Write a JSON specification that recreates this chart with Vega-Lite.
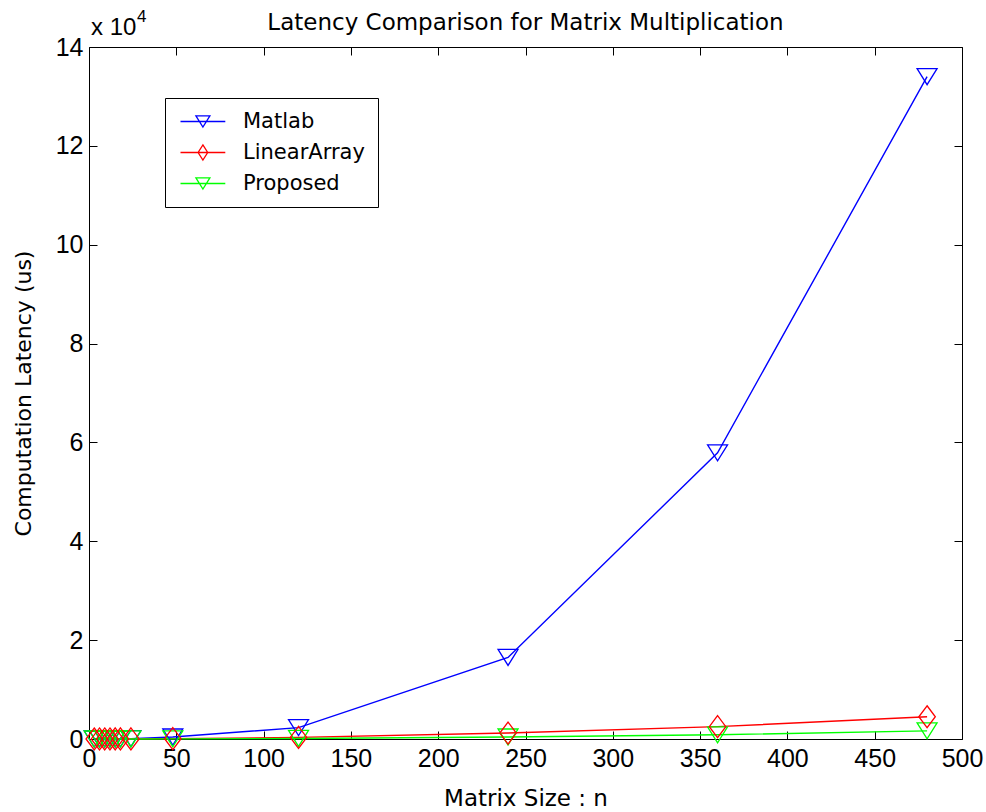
{
  "$schema": "https://vega.github.io/schema/vega-lite/v6.json",
  "width": 873,
  "height": 692,
  "autosize": "none",
  "padding": {"left": 89, "top": 47, "right": 24, "bottom": 73},
  "background": "white",
  "title": {
    "text": "Latency Comparison for Matrix Multiplication",
    "font": "DejaVu Sans",
    "fontSize": 23,
    "fontWeight": "normal",
    "color": "black",
    "anchor": "middle",
    "offset": 15,
    "dy": 42
  },
  "config": {
    "view": {"stroke": null},
    "axis": {
      "grid": false,
      "domainColor": "black",
      "domainWidth": 1,
      "tickColor": "black",
      "tickSize": -8,
      "labelFlush": false,
      "labelOverlap": false,
      "labelColor": "black",
      "labelFont": "Liberation Sans",
      "labelFontSize": 25,
      "titleColor": "black",
      "titleFont": "DejaVu Sans",
      "titleFontSize": 23,
      "titleFontWeight": "normal"
    }
  },
  "data": {
    "values": [
      {"n": 3, "series": "Matlab", "latency": 5},
      {"n": 6, "series": "Matlab", "latency": 8},
      {"n": 9, "series": "Matlab", "latency": 10},
      {"n": 12, "series": "Matlab", "latency": 14},
      {"n": 15, "series": "Matlab", "latency": 18},
      {"n": 18, "series": "Matlab", "latency": 25},
      {"n": 24, "series": "Matlab", "latency": 60},
      {"n": 48, "series": "Matlab", "latency": 400},
      {"n": 120, "series": "Matlab", "latency": 2300},
      {"n": 240, "series": "Matlab", "latency": 16500},
      {"n": 360, "series": "Matlab", "latency": 57900},
      {"n": 480, "series": "Matlab", "latency": 134000},
      {"n": 3, "series": "LinearArray", "latency": 2},
      {"n": 6, "series": "LinearArray", "latency": 4},
      {"n": 9, "series": "LinearArray", "latency": 6},
      {"n": 12, "series": "LinearArray", "latency": 8},
      {"n": 15, "series": "LinearArray", "latency": 10},
      {"n": 18, "series": "LinearArray", "latency": 13},
      {"n": 24, "series": "LinearArray", "latency": 20},
      {"n": 48, "series": "LinearArray", "latency": 70},
      {"n": 120, "series": "LinearArray", "latency": 320},
      {"n": 240, "series": "LinearArray", "latency": 1200},
      {"n": 360, "series": "LinearArray", "latency": 2500},
      {"n": 480, "series": "LinearArray", "latency": 4500},
      {"n": 3, "series": "Proposed", "latency": 1},
      {"n": 6, "series": "Proposed", "latency": 2},
      {"n": 9, "series": "Proposed", "latency": 3},
      {"n": 12, "series": "Proposed", "latency": 4},
      {"n": 15, "series": "Proposed", "latency": 5},
      {"n": 18, "series": "Proposed", "latency": 6},
      {"n": 24, "series": "Proposed", "latency": 8},
      {"n": 48, "series": "Proposed", "latency": 25},
      {"n": 120, "series": "Proposed", "latency": 110},
      {"n": 240, "series": "Proposed", "latency": 400},
      {"n": 360, "series": "Proposed", "latency": 850},
      {"n": 480, "series": "Proposed", "latency": 1650}
    ]
  },
  "layer": [
    {
      "mark": {"type": "point", "filled": false, "opacity": 0},
      "encoding": {
        "x": {"field": "n", "type": "quantitative", "axis": {"orient": "top", "values": [0,50,100,150,200,250,300,350,400,450,500], "labels": false, "title": null, "domain": true}},
        "y": {"field": "latency", "type": "quantitative", "axis": {"orient": "right", "values": [0,20000,40000,60000,80000,100000,120000,140000], "labels": false, "title": null, "domain": true}},
        "color": {"field": "series", "type": "nominal",
                  "scale": {"domain": ["Matlab", "LinearArray", "Proposed"], "range": ["#0000ff", "#ff0000", "#00ff00"]},
                  "legend": {"orient": "none", "legendX": 76, "legendY": 51, "title": null,
                             "strokeColor": "black", "fillColor": "white", "padding": 13,
                             "labelFont": "DejaVu Sans", "labelFontSize": 21, "labelColor": "black",
                             "labelOffset": 44, "rowPadding": 9, "symbolSize": 256,
                             "symbolOpacity": 1, "symbolStrokeWidth": 1.3, "symbolFillColor": "transparent"}},
        "shape": {"field": "series", "type": "nominal",
                  "scale": {"domain": ["Matlab", "LinearArray", "Proposed"],
                            "range": ["M-1,0H4.6M0.925,-0.7H2.675L1.8,0.7Z", "M-1,0H4.6M1.8,-0.95L2.4,0L1.8,0.95L1.2,0Z", "M-1,0H4.6M0.925,-0.7H2.675L1.8,0.7Z"]},
                  "legend": {"orient": "none", "legendX": 76, "legendY": 51, "title": null,
                             "strokeColor": "black", "fillColor": "white", "padding": 13,
                             "labelFont": "DejaVu Sans", "labelFontSize": 21, "labelColor": "black",
                             "labelOffset": 44, "rowPadding": 9, "symbolSize": 256,
                             "symbolOpacity": 1, "symbolStrokeWidth": 1.3, "symbolFillColor": "transparent"}}
      }
    },
    {
      "mark": {"type": "line", "strokeWidth": 1.4},
      "encoding": {
        "x": {"field": "n", "type": "quantitative", "scale": {"domain": [0, 500], "nice": false},
              "axis": {"values": [0,50,100,150,200,250,300,350,400,450,500], "title": "Matrix Size : n", "labelPadding": 15, "titlePadding": 16}},
        "y": {"field": "latency", "type": "quantitative", "scale": {"domain": [0, 140000], "nice": false},
              "axis": {"values": [0,20000,40000,60000,80000,100000,120000,140000], "labelExpr": "datum.value / 10000", "title": "Computation Latency (us)", "titleFontSize": 22, "labelPadding": 14, "titlePadding": 20}},
        "color": {"field": "series", "type": "nominal"}
      }
    },
    {
      "transform": [{"filter": "datum.series !== 'LinearArray'"}],
      "mark": {"type": "point", "shape": "M-1,-0.8H1L0,0.8Z", "filled": false, "size": 400, "strokeWidth": 1.3, "opacity": 1},
      "encoding": {
        "x": {"field": "n", "type": "quantitative", "axis": null},
        "y": {"field": "latency", "type": "quantitative", "axis": null},
        "color": {"field": "series", "type": "nominal"}
      }
    },
    {
      "transform": [{"filter": "datum.series === 'LinearArray'"}],
      "mark": {"type": "point", "shape": "M0,-1L0.75,0L0,1L-0.75,0Z", "filled": false, "size": 484, "strokeWidth": 1.3, "opacity": 1},
      "encoding": {
        "x": {"field": "n", "type": "quantitative", "axis": null},
        "y": {"field": "latency", "type": "quantitative", "axis": null},
        "color": {"field": "series", "type": "nominal"}
      }
    },
    {
      "data": {"values": [{"label": "x 10"}]},
      "mark": {"type": "text", "align": "left", "baseline": "alphabetic", "dx": 2, "dy": -12, "font": "Liberation Sans", "fontSize": 24, "color": "black"},
      "encoding": {
        "x": {"datum": 0, "type": "quantitative", "axis": null},
        "y": {"datum": 140000, "type": "quantitative", "axis": null},
        "text": {"field": "label"}
      }
    },
    {
      "data": {"values": [{"label": "4"}]},
      "mark": {"type": "text", "align": "left", "baseline": "alphabetic", "dx": 48, "dy": -25, "font": "Liberation Sans", "fontSize": 17, "color": "black"},
      "encoding": {
        "x": {"datum": 0, "type": "quantitative", "axis": null},
        "y": {"datum": 140000, "type": "quantitative", "axis": null},
        "text": {"field": "label"}
      }
    }
  ],
  "resolve": {"axis": {"x": "independent", "y": "independent"}}
}
